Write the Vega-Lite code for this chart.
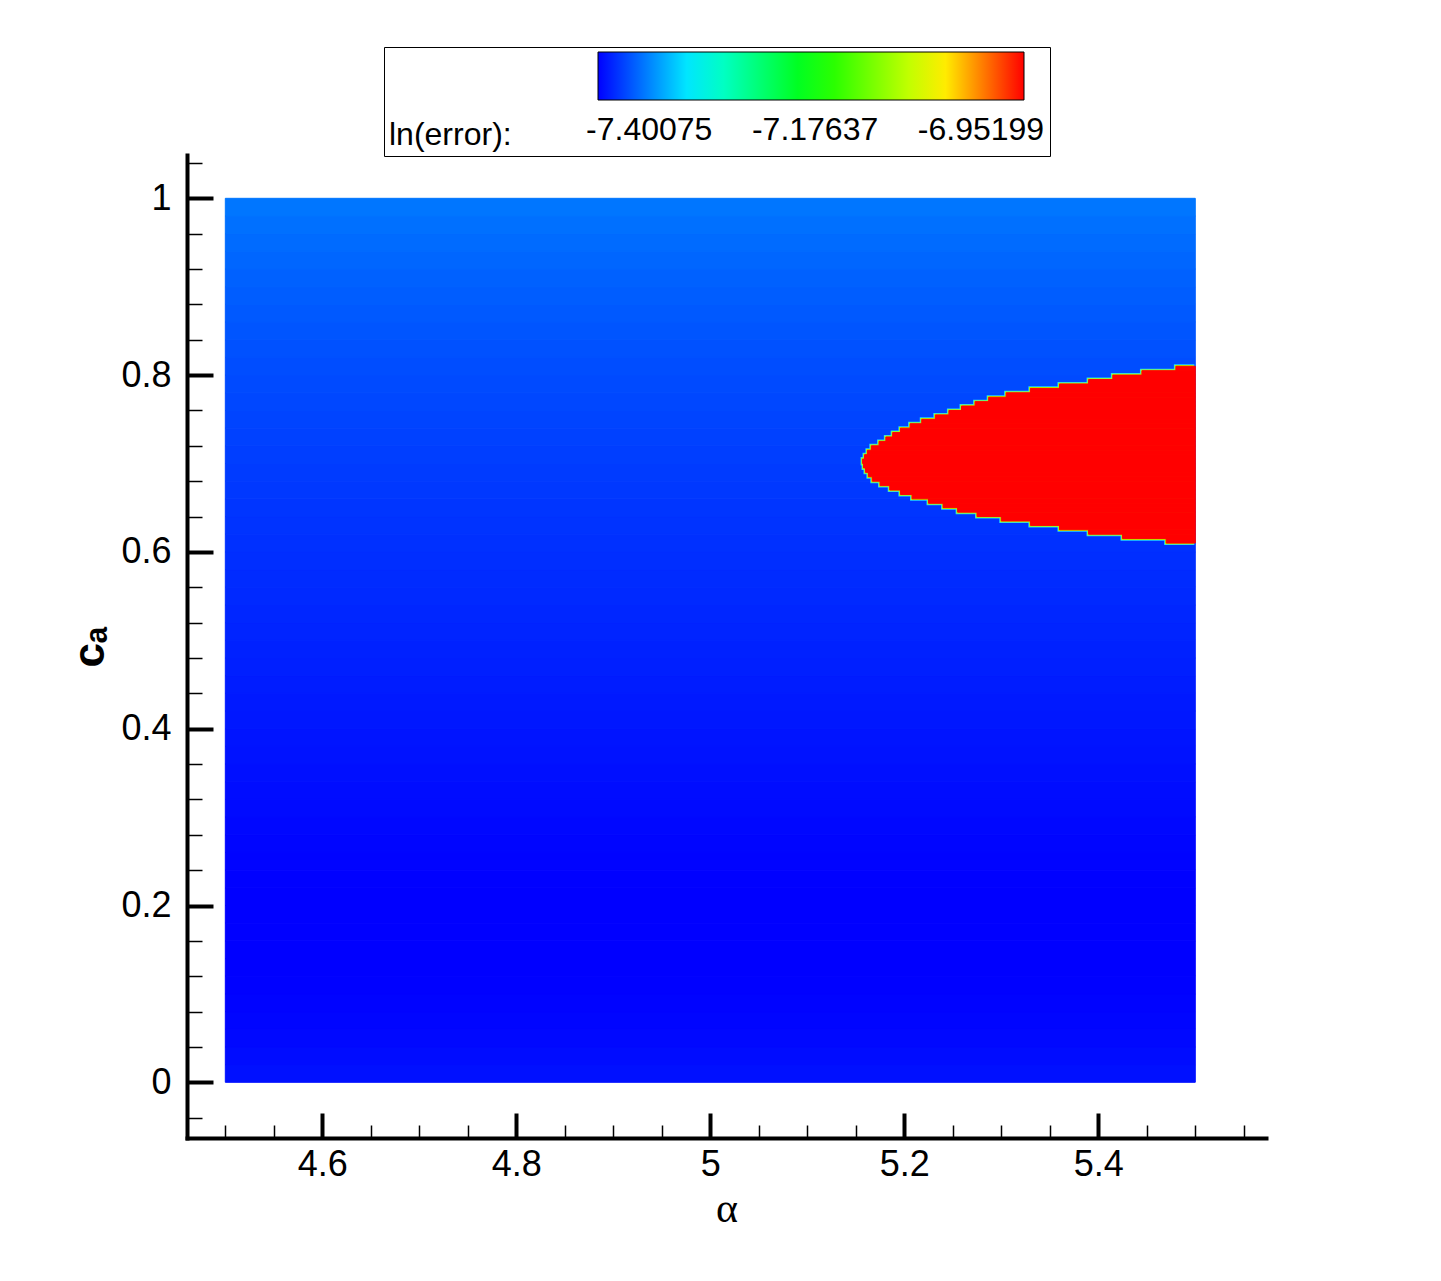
{
"$schema": "https://vega.github.io/schema/vega-lite/v6.json",
"width": 1079, "height": 983,
"autosize": {"type": "none"},
"padding": {"left": 187, "top": 155, "right": 175, "bottom": 143},
"background": "white",
"config": {"font": "Liberation Sans", "view": {"stroke": null}},
"datasets": {
"bg": [
{"a0":4.5,"a1":5.5,"c0":0.00,"c1":0.02,"v":-7.4617},
{"a0":4.5,"a1":5.5,"c0":0.02,"c1":0.04,"v":-7.4638},
{"a0":4.5,"a1":5.5,"c0":0.04,"c1":0.06,"v":-7.4658},
{"a0":4.5,"a1":5.5,"c0":0.06,"c1":0.08,"v":-7.4674},
{"a0":4.5,"a1":5.5,"c0":0.08,"c1":0.10,"v":-7.4684},
{"a0":4.5,"a1":5.5,"c0":0.10,"c1":0.12,"v":-7.4695},
{"a0":4.5,"a1":5.5,"c0":0.12,"c1":0.14,"v":-7.4700},
{"a0":4.5,"a1":5.5,"c0":0.14,"c1":0.16,"v":-7.4700},
{"a0":4.5,"a1":5.5,"c0":0.16,"c1":0.18,"v":-7.4700},
{"a0":4.5,"a1":5.5,"c0":0.18,"c1":0.20,"v":-7.4700},
{"a0":4.5,"a1":5.5,"c0":0.20,"c1":0.22,"v":-7.4700},
{"a0":4.5,"a1":5.5,"c0":0.22,"c1":0.24,"v":-7.4695},
{"a0":4.5,"a1":5.5,"c0":0.24,"c1":0.26,"v":-7.4684},
{"a0":4.5,"a1":5.5,"c0":0.26,"c1":0.28,"v":-7.4674},
{"a0":4.5,"a1":5.5,"c0":0.28,"c1":0.30,"v":-7.4664},
{"a0":4.5,"a1":5.5,"c0":0.30,"c1":0.32,"v":-7.4648},
{"a0":4.5,"a1":5.5,"c0":0.32,"c1":0.34,"v":-7.4638},
{"a0":4.5,"a1":5.5,"c0":0.34,"c1":0.36,"v":-7.4622},
{"a0":4.5,"a1":5.5,"c0":0.36,"c1":0.38,"v":-7.4606},
{"a0":4.5,"a1":5.5,"c0":0.38,"c1":0.40,"v":-7.4596},
{"a0":4.5,"a1":5.5,"c0":0.40,"c1":0.42,"v":-7.4580},
{"a0":4.5,"a1":5.5,"c0":0.42,"c1":0.44,"v":-7.4570},
{"a0":4.5,"a1":5.5,"c0":0.44,"c1":0.46,"v":-7.4554},
{"a0":4.5,"a1":5.5,"c0":0.46,"c1":0.48,"v":-7.4539},
{"a0":4.5,"a1":5.5,"c0":0.48,"c1":0.50,"v":-7.4528},
{"a0":4.5,"a1":5.5,"c0":0.50,"c1":0.52,"v":-7.4513},
{"a0":4.5,"a1":5.5,"c0":0.52,"c1":0.54,"v":-7.4502},
{"a0":4.5,"a1":5.5,"c0":0.54,"c1":0.56,"v":-7.4486},
{"a0":4.5,"a1":5.5,"c0":0.56,"c1":0.58,"v":-7.4476},
{"a0":4.5,"a1":5.5,"c0":0.58,"c1":0.60,"v":-7.4460},
{"a0":4.5,"a1":5.5,"c0":0.60,"c1":0.62,"v":-7.4450},
{"a0":4.5,"a1":5.5,"c0":0.62,"c1":0.64,"v":-7.4434},
{"a0":4.5,"a1":5.5,"c0":0.64,"c1":0.66,"v":-7.4424},
{"a0":4.5,"a1":5.5,"c0":0.66,"c1":0.68,"v":-7.4408},
{"a0":4.5,"a1":5.5,"c0":0.68,"c1":0.70,"v":-7.4393},
{"a0":4.5,"a1":5.5,"c0":0.70,"c1":0.72,"v":-7.4377},
{"a0":4.5,"a1":5.5,"c0":0.72,"c1":0.74,"v":-7.4361},
{"a0":4.5,"a1":5.5,"c0":0.74,"c1":0.76,"v":-7.4346},
{"a0":4.5,"a1":5.5,"c0":0.76,"c1":0.78,"v":-7.4330},
{"a0":4.5,"a1":5.5,"c0":0.78,"c1":0.80,"v":-7.4315},
{"a0":4.5,"a1":5.5,"c0":0.80,"c1":0.82,"v":-7.4299},
{"a0":4.5,"a1":5.5,"c0":0.82,"c1":0.84,"v":-7.4278},
{"a0":4.5,"a1":5.5,"c0":0.84,"c1":0.86,"v":-7.4257},
{"a0":4.5,"a1":5.5,"c0":0.86,"c1":0.88,"v":-7.4236},
{"a0":4.5,"a1":5.5,"c0":0.88,"c1":0.90,"v":-7.4216},
{"a0":4.5,"a1":5.5,"c0":0.90,"c1":0.92,"v":-7.4195},
{"a0":4.5,"a1":5.5,"c0":0.92,"c1":0.94,"v":-7.4169},
{"a0":4.5,"a1":5.5,"c0":0.94,"c1":0.96,"v":-7.4143},
{"a0":4.5,"a1":5.5,"c0":0.96,"c1":0.98,"v":-7.4117},
{"a0":4.5,"a1":5.5,"c0":0.98,"c1":1.00,"v":-7.4085}
],
"region": [
{"a0":5.470,"a1":5.5,"c0":0.610,"c1":0.615,"v":-6.89},
{"a0":5.425,"a1":5.5,"c0":0.615,"c1":0.620,"v":-6.89},
{"a0":5.390,"a1":5.5,"c0":0.620,"c1":0.625,"v":-6.89},
{"a0":5.360,"a1":5.5,"c0":0.625,"c1":0.630,"v":-6.89},
{"a0":5.330,"a1":5.5,"c0":0.630,"c1":0.635,"v":-6.89},
{"a0":5.300,"a1":5.5,"c0":0.635,"c1":0.640,"v":-6.89},
{"a0":5.275,"a1":5.5,"c0":0.640,"c1":0.645,"v":-6.89},
{"a0":5.255,"a1":5.5,"c0":0.645,"c1":0.650,"v":-6.89},
{"a0":5.240,"a1":5.5,"c0":0.650,"c1":0.655,"v":-6.89},
{"a0":5.225,"a1":5.5,"c0":0.655,"c1":0.660,"v":-6.89},
{"a0":5.208,"a1":5.5,"c0":0.660,"c1":0.665,"v":-6.89},
{"a0":5.196,"a1":5.5,"c0":0.665,"c1":0.670,"v":-6.89},
{"a0":5.185,"a1":5.5,"c0":0.670,"c1":0.675,"v":-6.89},
{"a0":5.175,"a1":5.5,"c0":0.675,"c1":0.680,"v":-6.89},
{"a0":5.167,"a1":5.5,"c0":0.680,"c1":0.685,"v":-6.89},
{"a0":5.163,"a1":5.5,"c0":0.685,"c1":0.690,"v":-6.89},
{"a0":5.160,"a1":5.5,"c0":0.690,"c1":0.695,"v":-6.89},
{"a0":5.158,"a1":5.5,"c0":0.695,"c1":0.700,"v":-6.89},
{"a0":5.157,"a1":5.5,"c0":0.700,"c1":0.705,"v":-6.89},
{"a0":5.159,"a1":5.5,"c0":0.705,"c1":0.710,"v":-6.89},
{"a0":5.162,"a1":5.5,"c0":0.710,"c1":0.715,"v":-6.89},
{"a0":5.166,"a1":5.5,"c0":0.715,"c1":0.720,"v":-6.89},
{"a0":5.174,"a1":5.5,"c0":0.720,"c1":0.725,"v":-6.89},
{"a0":5.181,"a1":5.5,"c0":0.725,"c1":0.730,"v":-6.89},
{"a0":5.188,"a1":5.5,"c0":0.730,"c1":0.735,"v":-6.89},
{"a0":5.196,"a1":5.5,"c0":0.735,"c1":0.740,"v":-6.89},
{"a0":5.206,"a1":5.5,"c0":0.740,"c1":0.745,"v":-6.89},
{"a0":5.218,"a1":5.5,"c0":0.745,"c1":0.750,"v":-6.89},
{"a0":5.232,"a1":5.5,"c0":0.750,"c1":0.755,"v":-6.89},
{"a0":5.246,"a1":5.5,"c0":0.755,"c1":0.760,"v":-6.89},
{"a0":5.259,"a1":5.5,"c0":0.760,"c1":0.765,"v":-6.89},
{"a0":5.273,"a1":5.5,"c0":0.765,"c1":0.770,"v":-6.89},
{"a0":5.287,"a1":5.5,"c0":0.770,"c1":0.775,"v":-6.89},
{"a0":5.305,"a1":5.5,"c0":0.775,"c1":0.780,"v":-6.89},
{"a0":5.330,"a1":5.5,"c0":0.780,"c1":0.785,"v":-6.89},
{"a0":5.360,"a1":5.5,"c0":0.785,"c1":0.790,"v":-6.89},
{"a0":5.390,"a1":5.5,"c0":0.790,"c1":0.795,"v":-6.89},
{"a0":5.415,"a1":5.5,"c0":0.795,"c1":0.800,"v":-6.89},
{"a0":5.445,"a1":5.5,"c0":0.800,"c1":0.805,"v":-6.89},
{"a0":5.480,"a1":5.5,"c0":0.805,"c1":0.810,"v":-6.89}
]
},
"encoding": {
  "x": {"field": "a0", "type": "quantitative",
    "scale": {"domain": [4.4605, 5.5729], "nice": false, "zero": false},
    "axis": {
      "title": "α", "titleFont": "Liberation Serif", "titleFontSize": 42, "titleFontWeight": "normal", "titleColor": "black", "titlePadding": -6,
      "values": [4.5,4.55,4.6,4.65,4.7,4.75,4.8,4.85,4.9,4.95,5.0,5.05,5.1,5.15,5.2,5.25,5.3,5.35,5.4,5.45,5.5,5.55],
      "labelExpr": "abs(datum.value*5 - round(datum.value*5)) < 0.001 ? format(datum.value, '~g') : ''",
      "tickSize": {"condition": {"test": "abs(datum.value*5 - round(datum.value*5)) < 0.001", "value": -25}, "value": -13},
      "tickWidth": {"condition": {"test": "abs(datum.value*5 - round(datum.value*5)) < 0.001", "value": 4}, "value": 1.5},
      "tickColor": "black", "domainColor": "black", "domainWidth": 4, "domainCap": "square",
      "labelFont": "Liberation Sans", "labelFontSize": 36, "labelColor": "black", "labelPadding": 34,
      "labelOverlap": false, "labelFlush": false, "grid": false
    }},
  "x2": {"field": "a1"},
  "y": {"field": "c0", "type": "quantitative",
    "scale": {"domain": [-0.063, 1.049], "nice": false, "zero": false},
    "axis": {
      "title": "cₐ", "titleFont": "Liberation Sans", "titleFontSize": 44, "titleFontWeight": "bold", "titleColor": "black", "titlePadding": 8,
      "values": [-0.04,0,0.04,0.08,0.12,0.16,0.2,0.24,0.28,0.32,0.36,0.4,0.44,0.48,0.52,0.56,0.6,0.64,0.68,0.72,0.76,0.8,0.84,0.88,0.92,0.96,1.0,1.04],
      "labelExpr": "abs(datum.value*5 - round(datum.value*5)) < 0.001 ? format(datum.value, '~g') : ''",
      "tickSize": {"condition": {"test": "abs(datum.value*5 - round(datum.value*5)) < 0.001", "value": -26}, "value": -15},
      "tickWidth": {"condition": {"test": "abs(datum.value*5 - round(datum.value*5)) < 0.001", "value": 4}, "value": 1.5},
      "tickColor": "black", "domainColor": "black", "domainWidth": 4, "domainCap": "square",
      "labelFont": "Liberation Sans", "labelFontSize": 36, "labelColor": "black", "labelPadding": 42,
      "labelOverlap": false, "labelFlush": false, "grid": false
    }},
  "y2": {"field": "c1"}
},
"layer": [
  {"data": {"name": "bg"}, "mark": {"type": "rect", "strokeWidth": 1, "stroke": {"expr": "scale('color', datum.v)"}},
   "encoding": {
    "color": {"field": "v", "type": "quantitative",
      "scale": {"type": "linear", "domain": [-7.47, -7.3372, -7.179, -7.0087, -6.8938], "range": ["#0000ff", "#00ffff", "#00ff00", "#ffff00", "#ff0000"], "clamp": true, "interpolate": "rgb"},
      "legend": {
        "type": "gradient",
        "orient": "none", "legendX": 197, "legendY": -108, "direction": "horizontal",
        "title": "ln(error):", "titleOrient": "left", "titleAnchor": "end", "titleBaseline": "line-top", "titleLineHeight": 79,
        "titleFont": "Liberation Sans", "titleFontSize": 32, "titleFontWeight": "normal", "titleColor": "black", "titlePadding": 86,
        "gradientLength": 426, "gradientThickness": 48, "gradientStrokeColor": "black", "gradientStrokeWidth": 1,
        "values": [-7.40075, -7.17637, -6.95199],
        "labelExpr": "'-' + format(-datum.value, '.5f')",
        "labelFont": "Liberation Sans", "labelFontSize": 32, "labelColor": "black", "labelOffset": 15, "labelOverlap": false,
        "padding": 5, "strokeColor": "black", "fillColor": "white"
      }}
   }},
  {"data": {"name": "region"}, "mark": {"type": "rect", "fill": "#20d8ff", "stroke": "#20d8ff", "strokeWidth": 4},
   "encoding": {"x2": {"datum": 5.497}}},
  {"data": {"name": "region"}, "mark": {"type": "rect", "fill": "#b0ff00", "stroke": "#b0ff00", "strokeWidth": 2.5},
   "encoding": {"x2": {"datum": 5.497}}},
  {"data": {"name": "region"}, "mark": {"type": "rect", "strokeWidth": 1, "stroke": {"expr": "scale('color', datum.v)"}},
   "encoding": {
    "color": {"field": "v", "type": "quantitative"}
   }}
]
}
